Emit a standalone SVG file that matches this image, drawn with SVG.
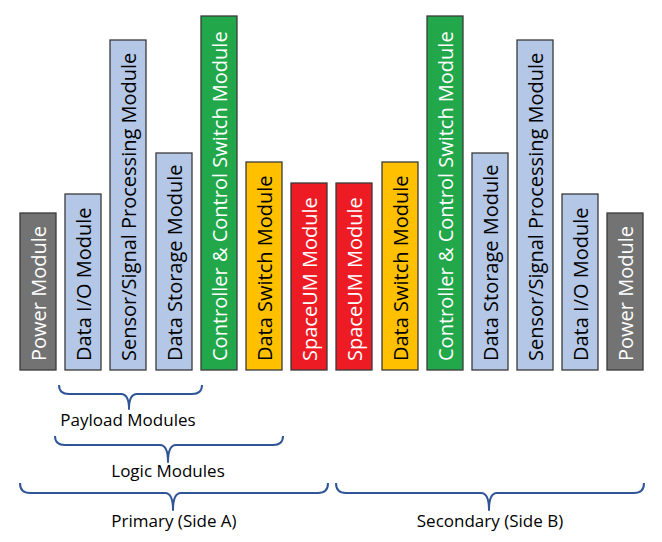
<svg xmlns="http://www.w3.org/2000/svg" width="662" height="542" viewBox="0 0 662 542">
<style>
.box{stroke:#3a3a3a;stroke-width:1.3}
.gray{fill:#737373}
.blue{fill:#b4c7e7}
.green{fill:#22a84a}
.yellow{fill:#ffc000}
.red{fill:#ed1c24}
.lbl{font-family:"Open Sans","Liberation Sans",sans-serif;font-size:20px}
.w{fill:#ffffff}
.k{fill:#000000}
.brace{fill:none;stroke:#2f5597;stroke-width:2;stroke-linejoin:round}
.cap{font-family:"Open Sans","Liberation Sans",sans-serif;font-size:17px;fill:#000;text-anchor:middle}
</style>
<rect width="662" height="542" fill="#ffffff"/>
<g id="power-a"><rect class="box gray" x="20" y="213" width="36" height="157"/><text class="lbl w" transform="translate(45.5,361) rotate(-90)">Power Module</text></g>
<g id="dataio-a"><rect class="box blue" x="65" y="194" width="36" height="176"/><text class="lbl k" transform="translate(90.5,361) rotate(-90)">Data I/O Module</text></g>
<g id="sensor-a"><rect class="box blue" x="110" y="40" width="36" height="330"/><text class="lbl k" transform="translate(135.5,361) rotate(-90)">Sensor/Signal Processing Module</text></g>
<g id="storage-a"><rect class="box blue" x="156" y="153" width="36" height="217"/><text class="lbl k" transform="translate(181.5,361) rotate(-90)">Data Storage Module</text></g>
<g id="controller-a"><rect class="box green" x="201" y="16" width="36" height="354"/><text class="lbl w" transform="translate(226.5,361) rotate(-90)">Controller &amp; Control Switch Module</text></g>
<g id="dataswitch-a"><rect class="box yellow" x="246" y="162" width="36" height="208"/><text class="lbl k" transform="translate(271.5,361) rotate(-90)">Data Switch Module</text></g>
<g id="spaceum-a"><rect class="box red" x="291" y="183" width="36" height="187"/><text class="lbl w" transform="translate(316.5,361) rotate(-90)">SpaceUM Module</text></g>
<g id="spaceum-b"><rect class="box red" x="336" y="183" width="36" height="187"/><text class="lbl w" transform="translate(361.5,361) rotate(-90)">SpaceUM Module</text></g>
<g id="dataswitch-b"><rect class="box yellow" x="382" y="162" width="36" height="208"/><text class="lbl k" transform="translate(407.5,361) rotate(-90)">Data Switch Module</text></g>
<g id="controller-b"><rect class="box green" x="427" y="16" width="36" height="354"/><text class="lbl w" transform="translate(452.5,361) rotate(-90)">Controller &amp; Control Switch Module</text></g>
<g id="storage-b"><rect class="box blue" x="472" y="153" width="36" height="217"/><text class="lbl k" transform="translate(497.5,361) rotate(-90)">Data Storage Module</text></g>
<g id="sensor-b"><rect class="box blue" x="517" y="40" width="36" height="330"/><text class="lbl k" transform="translate(542.5,361) rotate(-90)">Sensor/Signal Processing Module</text></g>
<g id="dataio-b"><rect class="box blue" x="562" y="194" width="36" height="176"/><text class="lbl k" transform="translate(587.5,361) rotate(-90)">Data I/O Module</text></g>
<g id="power-b"><rect class="box gray" x="607" y="213" width="36" height="157"/><text class="lbl w" transform="translate(632.5,361) rotate(-90)">Power Module</text></g>
<g id="connectors">
<path class="brace" d="M59,385 Q59,394 69,394 L121,394 Q129,394 129,409 Q129,394 137,394 L192,394 Q202,394 202,385"/>
<path class="brace" d="M55,436 Q55,445 65,445 L160,445 Q168,445 168,462 Q168,445 176,445 L273,445 Q283,445 283,436"/>
<path class="brace" d="M20,483 Q20,493 30,493 L165,493 Q173,493 173,510 Q173,493 181,493 L318,493 Q328,493 328,483"/>
<path class="brace" d="M336,483 Q336,493 346,493 L481,493 Q489,493 489,510 Q489,493 497,493 L634,493 Q644,493 644,483"/>
</g>
<g id="labels">
<text class="cap" x="128" y="426">Payload Modules</text>
<text class="cap" x="168" y="477">Logic Modules</text>
<text class="cap" x="174" y="527">Primary (Side A)</text>
<text class="cap" x="490" y="527">Secondary (Side B)</text>
</g>
</svg>
